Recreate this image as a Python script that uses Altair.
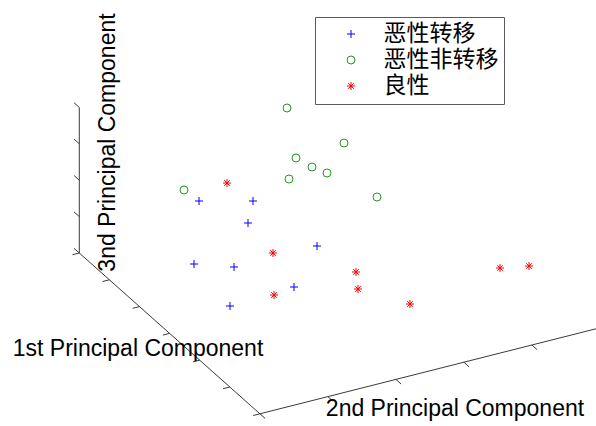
import math
import altair as alt
import pandas as pd

# --- sample groups (projected view coordinates: u to the right, v downward) ---
CATS = ["恶性转移", "恶性非转移", "良性"]

meta_u = [199, 253, 248, 317, 194, 234, 294, 230]
meta_v = [201, 201, 223, 246, 264, 267, 287, 306]

nonmeta_u = [287, 296, 312, 327, 344, 289, 377, 184]
nonmeta_v = [108, 158, 167, 173, 143, 179, 197, 190]

benign_u = [227, 273, 274, 356, 358, 410, 500, 529]
benign_v = [183, 253, 295, 272, 289, 304, 268, 266]

# --- projection of the three component axes onto the view plane ---
ORIGIN = (79.3, 253.0)
STEP1 = (30.1, 26.8)    # one tick along the 1st component
STEP2 = (68.0, -17.2)   # one tick along the 2nd component
STEP3 = (0.0, -36.4)    # one tick along the 3rd component
TICKS1 = [0, 1, 2, 3, 4, 5, 6]
TICKS2 = [0, 1, 2, 3, 4, 5]
TICKS3 = [0, 1, 2, 3, 4]
TICK_LEN = 7.0

AXIS_TITLES = ["1st Principal Component", "2nd Principal Component", "3nd Principal Component"]
title_u = [138, 455, 115]
title_v = [356, 416, 142.5]
title_angle = [0, 0, 270]

W, H = 596, 426


def unit(vec):
    n = math.hypot(*vec)
    return (vec[0] / n, vec[1] / n)


def add(p, vec, k=1.0):
    return (p[0] + k * vec[0], p[1] + k * vec[1])


u1, u2 = unit(STEP1), unit(STEP2)
corner = add(ORIGIN, STEP1, TICKS1[-1])

segments = []


def seg(a, b):
    segments.append({"x": a[0], "y": a[1], "x2": b[0], "y2": b[1]})


# axis lines
seg(ORIGIN, corner)
seg(corner, add(corner, STEP2, TICKS2[-1]))
seg(ORIGIN, add(ORIGIN, STEP3, TICKS3[-1]))
# tick marks
for k in TICKS1:
    p = add(ORIGIN, STEP1, k)
    seg(p, add(p, u2, -TICK_LEN))
for k in TICKS2:
    p = add(corner, STEP2, k)
    seg(p, add(p, u1, TICK_LEN))
for k in TICKS3:
    p = add(ORIGIN, STEP3, k)
    seg(p, add(p, u1, -TICK_LEN))

axes_df = pd.DataFrame(segments)

points_df = pd.concat([
    pd.DataFrame({"u": meta_u, "v": meta_v, "cat": CATS[0]}),
    pd.DataFrame({"u": nonmeta_u, "v": nonmeta_v, "cat": CATS[1]}),
    pd.DataFrame({"u": benign_u, "v": benign_v, "cat": CATS[2]}),
], ignore_index=True)

titles_df = pd.DataFrame({"text": AXIS_TITLES, "u": title_u, "v": title_v, "ang": title_angle})

xs = alt.Scale(domain=[0, W], nice=False, zero=False)
ys = alt.Scale(domain=[0, H], reverse=True, nice=False, zero=False)

PLUS = "M-1,0L1,0M0,-1L0,1"
STAR = "M-1,0L1,0M0,-1L0,1M-0.7,-0.7L0.7,0.7M-0.7,0.7L0.7,-0.7"

axes_layer = alt.Chart(axes_df).mark_rule(color="#3a3a3a", strokeWidth=1).encode(
    x=alt.X("x:Q", scale=xs, axis=None),
    y=alt.Y("y:Q", scale=ys, axis=None),
    x2="x2:Q",
    y2="y2:Q",
)

legend = alt.Legend(
    title=None,
    orient="none",
    legendX=315,
    legendY=17,
    padding=5.5,
    strokeColor="#5a5a5a",
    fillColor="white",
    labelFont="Noto Sans CJK SC",
    labelFontSize=23,
    labelColor="black",
    labelOffset=21,
    symbolOffset=19,
    symbolSize=64,
    symbolStrokeWidth=1,
    rowPadding=2,
)

points_layer = alt.Chart(points_df).mark_point(filled=False, strokeWidth=1, opacity=1, size=64).encode(
    x=alt.X("u:Q", scale=xs, axis=None),
    y=alt.Y("v:Q", scale=ys, axis=None),
    color=alt.Color("cat:N", scale=alt.Scale(domain=CATS, range=["#0000ff", "#1f9a1f", "#ff0000"]), legend=legend),
    shape=alt.Shape("cat:N", scale=alt.Scale(domain=CATS, range=[PLUS, "circle", STAR]), legend=legend),
)

titles_layer = alt.Chart(titles_df).mark_text(
    font="Liberation Sans", fontSize=23, color="black", align="center", baseline="alphabetic"
).encode(
    x=alt.X("u:Q", scale=xs, axis=None),
    y=alt.Y("v:Q", scale=ys, axis=None),
    text="text:N",
    angle=alt.Angle("ang:Q", scale=None),
)

chart = alt.layer(axes_layer, points_layer, titles_layer).properties(
    width=W, height=H, padding=0, autosize=alt.AutoSizeParams(type="none"), background="white"
).configure_view(stroke=None)

chart.save("out.html", embed_options={"renderer": "svg", "actions": False})
